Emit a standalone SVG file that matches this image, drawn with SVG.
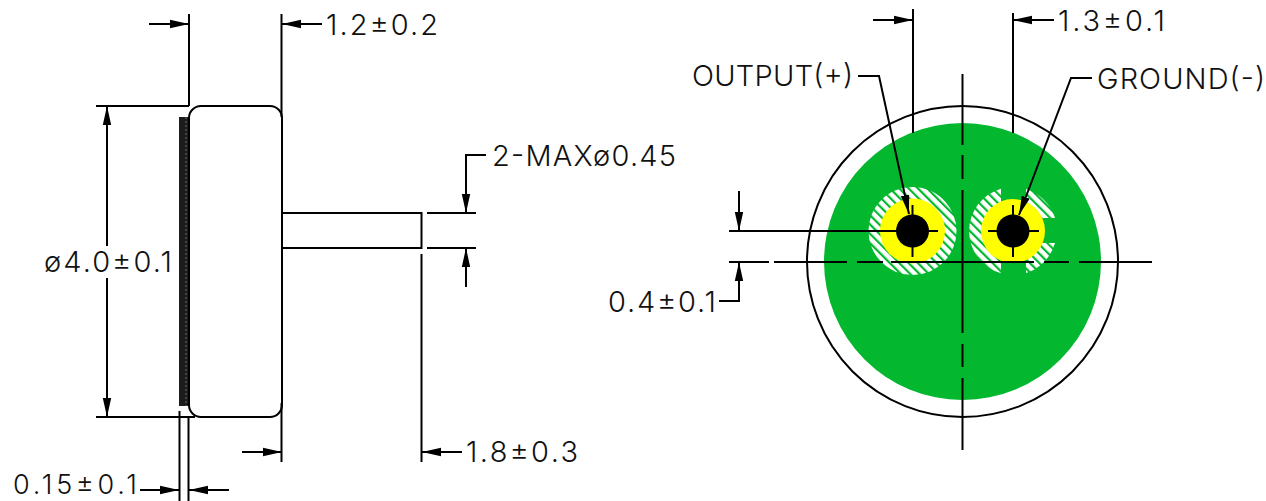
<svg xmlns="http://www.w3.org/2000/svg" width="1266" height="501" viewBox="0 0 1266 501">
<style>
.l{fill:none;stroke:#000;stroke-width:2}
.a{fill:none;stroke:#000;stroke-width:2;marker-end:url(#ah)}
.t{font-family:Inter,Roboto,"Liberation Sans",sans-serif;font-weight:300;font-size:29px;fill:#111}
.s{font-size:27px}
</style>
<defs>
<marker id="ah" markerUnits="userSpaceOnUse" markerWidth="20" markerHeight="10" refX="19" refY="5" orient="auto"><path d="M0,.8 L19,5 L0,9.200 Z" fill="#000"/></marker>
<pattern id="hatch" width="6.600" height="7" patternUnits="userSpaceOnUse" patternTransform="rotate(-45)"><rect width="6.600" height="7" fill="#fff"/><rect width="2.200" height="7" fill="#03b72f"/></pattern>
<pattern id="strip" width="4" height="4" patternUnits="userSpaceOnUse"><rect width="4" height="4" fill="#1c1c1c"/><circle cx="2" cy="2" r=".8" fill="#777"/></pattern>
</defs>
<rect width="1266" height="501" fill="#fff"/>
<g id="side-view">
<rect x="179" y="117" width="10" height="289" fill="#1c1c1c"/>
<rect x="184" y="117" width="5" height="289" fill="url(#strip)"/>
<path class="l" d="M201,106 H270 A12,12 0 0 1 282,118 V405 A12,12 0 0 1 270,417 H201 A12,12 0 0 1 189,405 V118 A12,12 0 0 1 201,106 Z"/>
<path class="l" d="M282,213 H421.500 V248 H282"/>
</g>
<g id="front-view">
<circle cx="962.500" cy="261.500" r="155.500" fill="#fff" stroke="#000" stroke-width="2"/>
<circle cx="962.500" cy="261.500" r="138.500" fill="#03b72f"/>
</g>
<g id="pin-output">
<circle cx="912.500" cy="231" r="44" fill="url(#hatch)"/>
<circle cx="912.500" cy="231" r="32.500" fill="#ffff00"/>
<circle cx="912.500" cy="231" r="16.500" fill="#000"/>
</g>
<g id="pin-ground">
<path d="M1001,188.700 A44,44 0 0 0 1001,273.300 Z" fill="url(#hatch)"/>
<path d="M1026,189 A44,44 0 0 1 1055,218 H1026 Z M1026,273 A44,44 0 0 0 1055,243 H1026 Z" fill="url(#hatch)"/>
<circle cx="1013" cy="231" r="32" fill="#ffff00"/>
<circle cx="1013" cy="231" r="16.500" fill="#000"/>
</g>
<g id="connectors">
<path class="l" d="M189,14 V106 M281.500,14 V117 M96,106 H189 M96,417 H195 M179.500,411 V501 M188.500,417 V501 M281.500,403 V462"/>
<path class="a" d="M107,246 V106"/><path class="a" d="M107,278 V417"/>
<path class="a" d="M149,24 H189"/><path class="a" d="M322,24 H282"/>
<path class="a" d="M242,452 H282"/>
<path class="a" d="M140,490 H179"/><path class="a" d="M229,490 H189"/>
<path class="l" d="M427,213 H476 M427,248 H476 M421.500,254 V462"/>
<path class="a" d="M486,155 H466 V213"/><path class="a" d="M466,287 V248"/>
<path class="a" d="M462,452 H422"/>
<path class="l" d="M913,9 V133 M1013,13 V133"/>
<path class="a" d="M873,20 H913"/><path class="a" d="M1054,20 H1013"/>
<path class="l" d="M729,231 H938 M988,231 H1039 M912.500,205 V257 M1013,205 V257"/>
<path class="l" d="M729,262 H769 M774,262 H847 M857,262 H883 M891,262 H1034 M1044,262 H1069 M1079,262 H1152"/>
<path class="l" d="M962.500,74 V145 M962.500,155 V179 M962.500,190 V333 M962.500,344 V367 M962.500,378 V450"/>
<path class="a" d="M739,191 V231"/><path class="a" d="M719,301 H739 V262"/>
<path class="a" d="M858,76 H879 L909,214"/>
<path class="a" d="M1092,78 H1071 L1019,215"/>
</g>
<g id="labels">
<text class="t" x="326" y="35" textLength="112">1.2±0.2</text>
<text class="t" x="492" y="166" textLength="184">2-MAXø0.45</text>
<text class="t" x="44" y="272" textLength="128">ø4.0±0.1</text>
<text class="t" x="466" y="462" textLength="112">1.8±0.3</text>
<text class="t s" x="13" y="494" textLength="124">0.15±0.1</text>
<text class="t" x="1058" y="31" textLength="107">1.3±0.1</text>
<text class="t" x="692" y="86" textLength="161">OUTPUT(+)</text>
<text class="t" x="1097" y="89" textLength="168">GROUND(-)</text>
<text class="t" x="608" y="312" textLength="108">0.4±0.1</text>
</g>
</svg>
